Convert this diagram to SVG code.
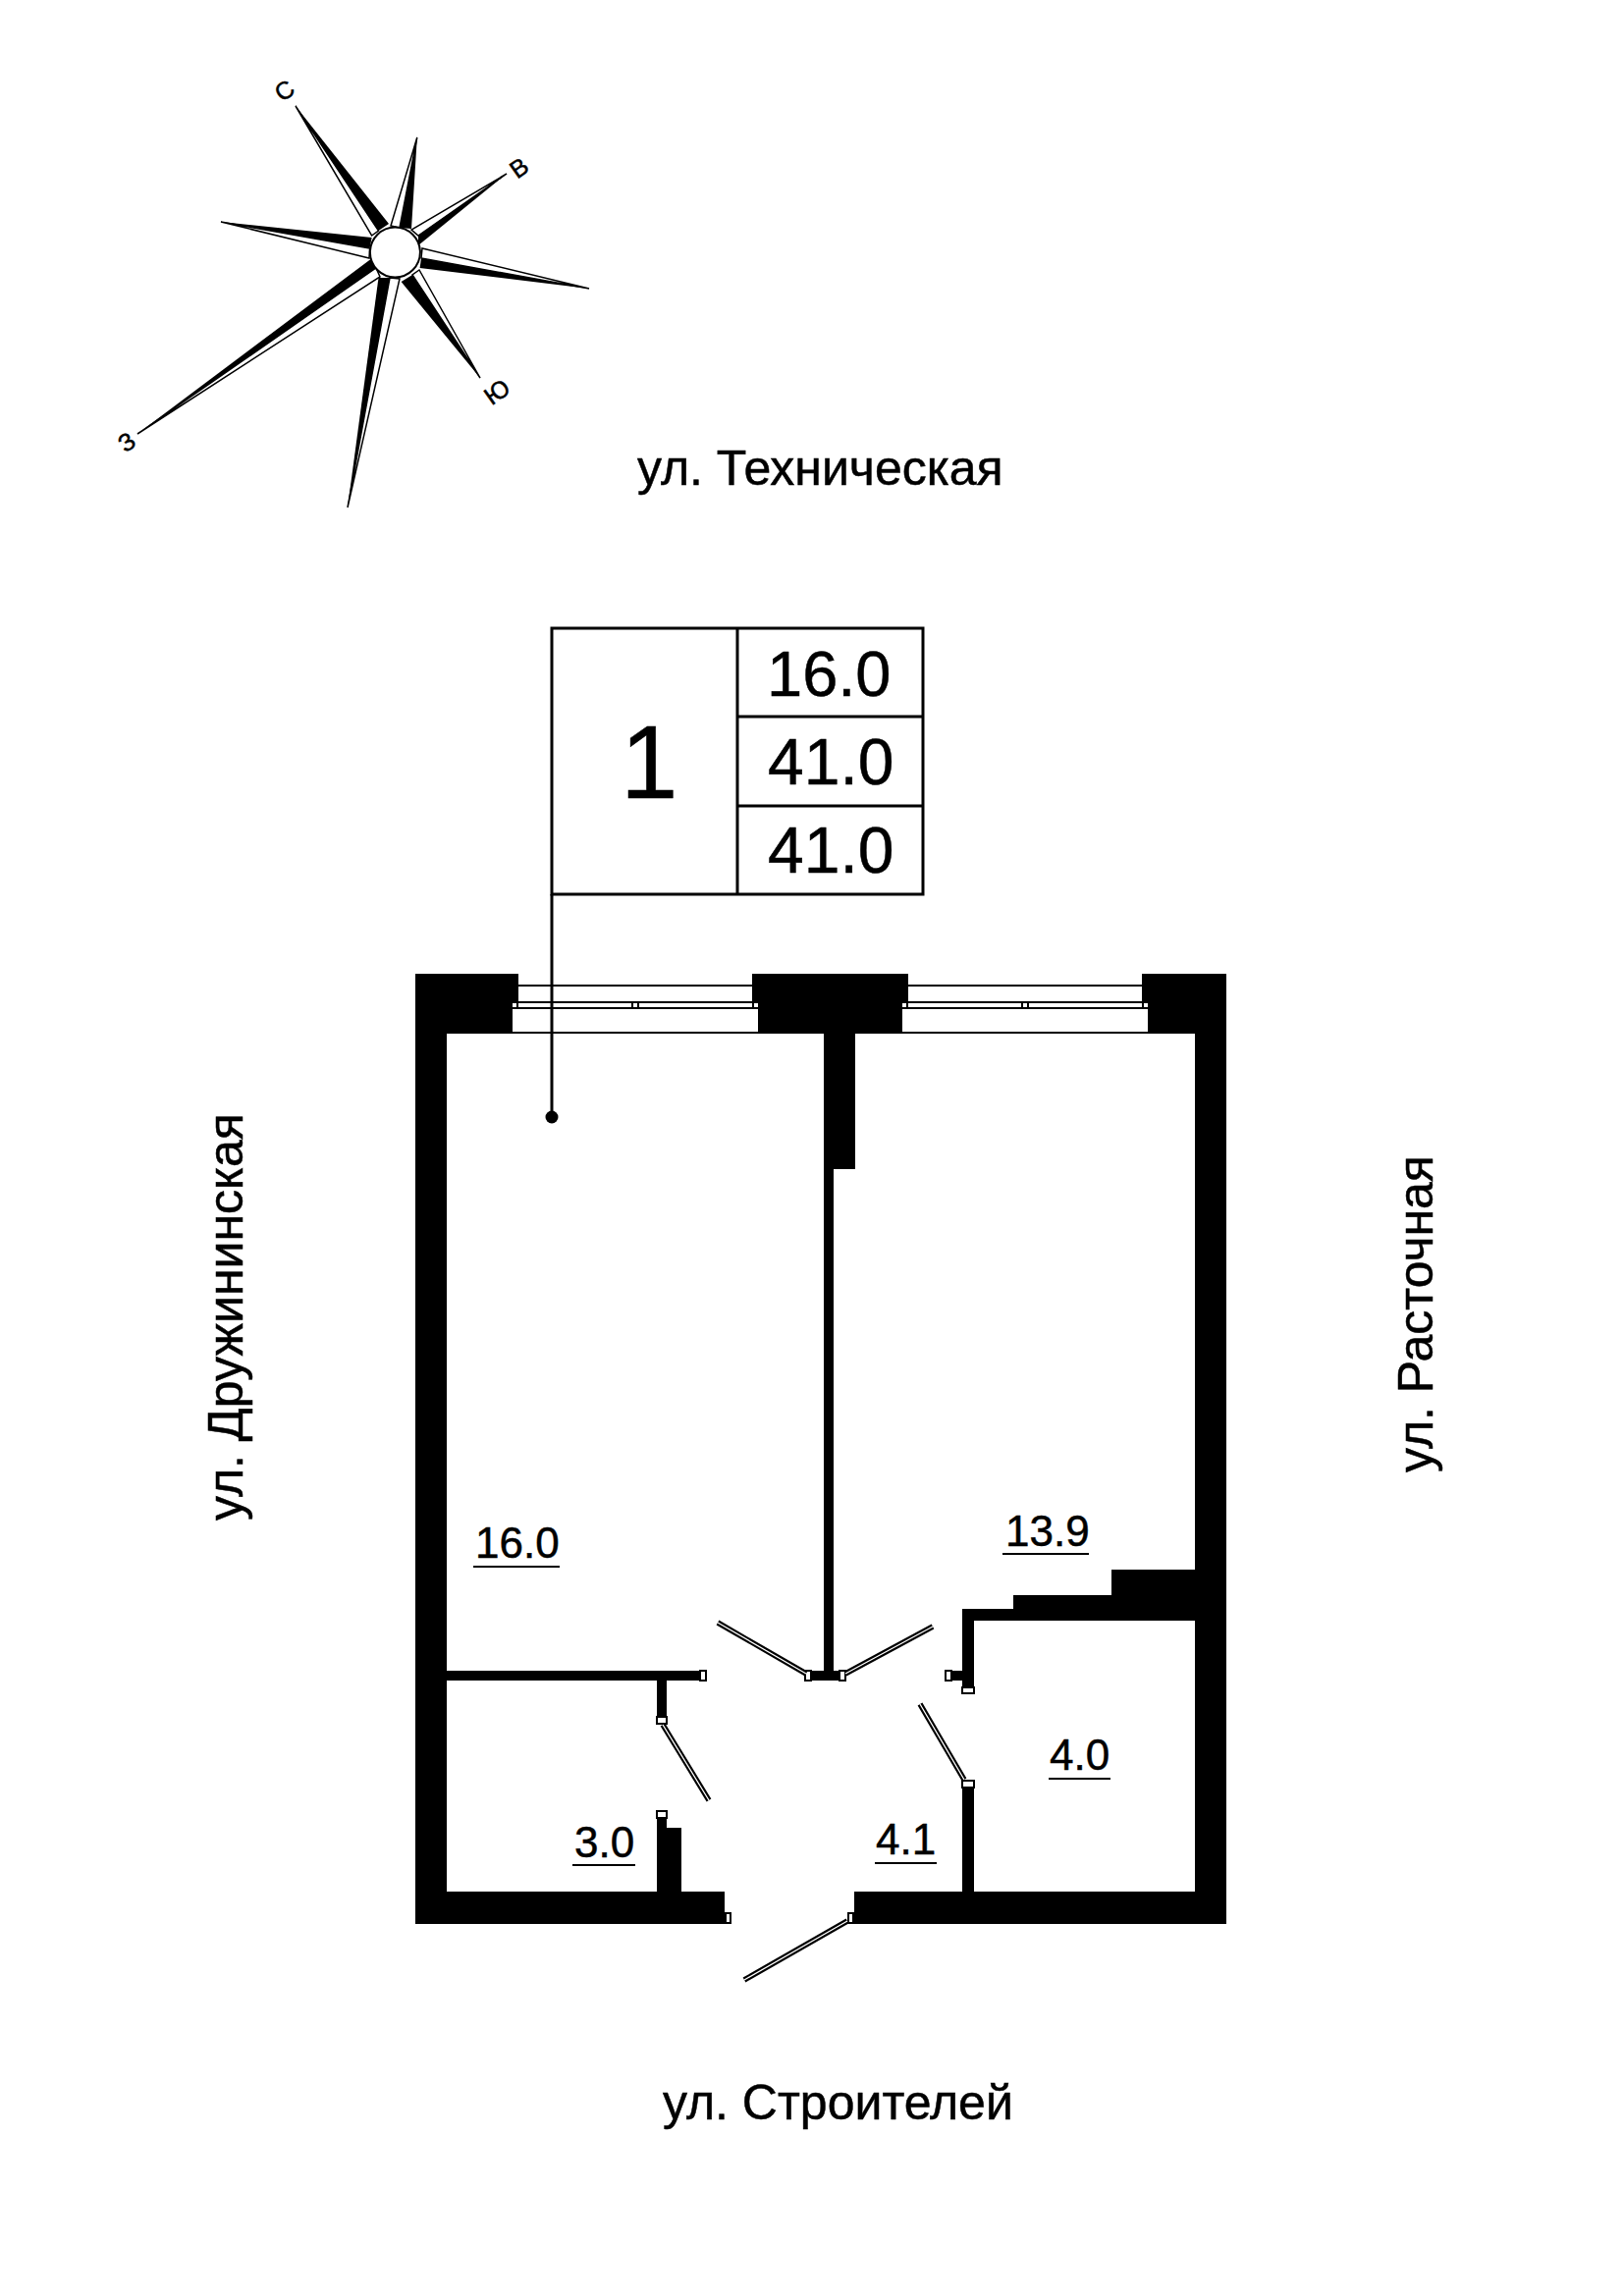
<svg xmlns="http://www.w3.org/2000/svg" width="1654" height="2339" viewBox="0 0 1654 2339">
<style>
text{font-family:"Liberation Sans",Arial,sans-serif;fill:#000;stroke:#000;stroke-width:.5}
.k{fill:#000}
.w{fill:#fff}
.ln{stroke:#000;stroke-width:3;fill:none}
.box{fill:#fff;stroke:#000;stroke-width:2}
.leafo{stroke:#000;stroke-width:5.5;fill:none}
.leafi{stroke:#fff;stroke-width:1.3;fill:none}
.room{font-size:44px}
.cell{font-size:66px}
.street{font-size:50px}
.dir{font-size:25px;text-anchor:middle}
.edge{fill:#fff;stroke:#000;stroke-width:1.5}
</style>
<rect class="w" width="1654" height="2339"/>

<g id="compass">
<polygon class="edge" points="301,108 378.6,240 385.5,235"/><polygon class="k" points="301,108 396,228 385.5,235"/>
<polygon class="edge" points="424.8,140 398,230 407,232"/><polygon class="k" points="424.8,140 419,233 407,232"/>
<polygon class="edge" points="516,177 419,234 426,240"/><polygon class="k" points="516,177 426,250 426,240"/>
<polygon class="edge" points="600,294 430,253 429,263"/><polygon class="k" points="600,294 427.6,273 429,263"/>
<polygon class="edge" points="489,385 427,275 420,280"/><polygon class="k" points="489,385 408.6,287 420,280"/>
<polygon class="edge" points="354,517 407,284 397,283"/><polygon class="k" points="354,517 385.5,283 397,283"/>
<polygon class="edge" points="140,442 387,282 383,273"/><polygon class="k" points="140,442 377.6,264 383,273"/>
<polygon class="edge" points="225,226 376,263 376.6,253"/><polygon class="k" points="225,226 378.6,242 376.6,253"/>
<circle cx="402.4" cy="257" r="25.5" fill="#fff" stroke="#000" stroke-width="2"/>
<text class="dir" transform="translate(294.7,99.3) rotate(-35)">С</text>
<text class="dir" transform="translate(533.7,178) rotate(-35)">В</text>
<text class="dir" transform="translate(511,406.3) rotate(-35)">Ю</text>
<text class="dir" transform="translate(134,457.3) rotate(-35)">З</text>
</g>

<g id="streets">
<text class="street" x="649" y="494">ул. Техническая</text>
<text class="street" x="675" y="2159">ул. Строителей</text>
<text class="street" transform="translate(247,1549) rotate(-90)">ул. Дружининская</text>
<text class="street" transform="translate(1459,1500) rotate(-90)">ул. Расточная</text>
</g>

<g id="walls">
<rect class="k" x="423" y="992" width="826" height="61"/>
<rect class="k" x="423" y="992" width="32" height="968"/>
<rect class="k" x="1217" y="992" width="32" height="968"/>
<rect class="k" x="423" y="1927" width="315" height="33"/>
<rect class="k" x="870" y="1927" width="379" height="33"/>
<rect class="k" x="839" y="1053" width="32" height="138"/>
<rect class="k" x="839" y="1053" width="10" height="650"/>
<rect class="k" x="455" y="1702" width="257" height="10"/>
<rect class="k" x="669" y="1712" width="10" height="36"/>
<rect class="k" x="669" y="1853" width="10" height="74"/>
<rect class="k" x="679" y="1862" width="15" height="65"/>
<rect class="k" x="827" y="1702" width="27" height="10"/>
<rect class="k" x="1132" y="1599" width="85" height="52"/>
<rect class="k" x="1032" y="1625" width="185" height="26"/>
<rect class="k" x="980" y="1639" width="237" height="12"/>
<rect class="k" x="980" y="1651" width="12" height="67"/>
<rect class="k" x="970" y="1702" width="10" height="10"/>
<rect class="k" x="980" y="1822" width="12" height="105"/>
</g>

<g id="window-1">
<rect class="w" x="528" y="992" width="238" height="28"/>
<rect class="k" x="528" y="1003" width="238" height="2"/>
<rect class="w" x="522" y="1022" width="250" height="4"/>
<rect class="k" x="526" y="1022" width="2" height="4"/>
<rect class="k" x="643" y="1022" width="2" height="4"/>
<rect class="k" x="649" y="1022" width="2" height="4"/>
<rect class="k" x="766" y="1022" width="2" height="4"/>
<rect class="w" x="522" y="1028" width="250" height="23"/>
</g>

<g id="window-2">
<rect class="w" x="925" y="992" width="238" height="28"/>
<rect class="k" x="925" y="1003" width="238" height="2"/>
<rect class="w" x="919" y="1022" width="250" height="4"/>
<rect class="k" x="923" y="1022" width="2" height="4"/>
<rect class="k" x="1040" y="1022" width="2" height="4"/>
<rect class="k" x="1046" y="1022" width="2" height="4"/>
<rect class="k" x="1163" y="1022" width="2" height="4"/>
<rect class="w" x="919" y="1028" width="250" height="23"/>
</g>

<g id="doors">
<rect class="box" x="713" y="1702" width="6" height="10"/>
<rect class="box" x="669" y="1749" width="10" height="7"/>
<rect class="box" x="669" y="1845" width="10" height="7"/>
<rect class="box" x="820" y="1702" width="6" height="10"/>
<rect class="box" x="855" y="1702" width="6" height="10"/>
<rect class="box" x="963" y="1702" width="6" height="10"/>
<rect class="box" x="980" y="1719" width="12" height="6"/>
<rect class="box" x="980" y="1814" width="12" height="7"/>
<rect class="box" x="739" y="1949" width="5" height="10"/>
<rect class="box" x="864" y="1949" width="5" height="10"/>
<path class="leafo" d="M675 1757L722 1834M821 1705L731 1653M861 1705L950 1657M982 1813L937 1736M863 1957L758 2017"/>
<path class="leafi" d="M675 1757L722 1834M821 1705L731 1653M861 1705L950 1657M982 1813L937 1736M863 1957L758 2017"/>
</g>

<g id="rooms">
<text class="room" x="484" y="1587">16.0</text><rect class="k" x="482" y="1595" width="88" height="2"/>
<text class="room" x="585" y="1892">3.0</text><rect class="k" x="583" y="1899" width="64" height="2"/>
<text class="room" x="892" y="1889">4.1</text><rect class="k" x="891" y="1897" width="63" height="2"/>
<text class="room" x="1069" y="1803">4.0</text><rect class="k" x="1068" y="1811" width="63" height="2"/>
<text class="room" x="1024" y="1575">13.9</text><rect class="k" x="1021" y="1582" width="88" height="2"/>
</g>

<g id="table">
<rect x="562" y="640" width="378" height="271" class="ln"/>
<path class="ln" d="M751 640V911M751 730H940M751 821H940"/>
<text x="632" y="813" font-size="105">1</text>
<text class="cell" x="781" y="709" style="font-size:65px">16.0</text>
<text class="cell" x="782" y="799">41.0</text>
<text class="cell" x="782" y="889">41.0</text>
</g>

<g id="connectors">
<path class="ln" d="M562 911V1138"/>
<circle class="k" cx="562" cy="1138" r="6.5"/>
</g>
</svg>
